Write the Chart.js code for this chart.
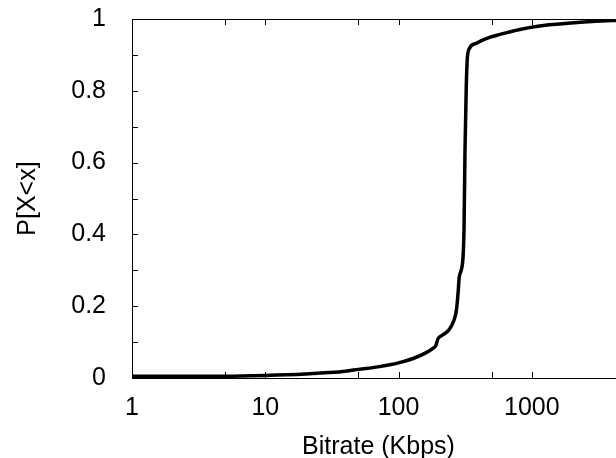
<!DOCTYPE html>
<html>
<head>
<meta charset="utf-8">
<script src="https://cdn.jsdelivr.net/npm/chart.js@4.4.1/dist/chart.umd.min.js"></script>
<style>
  html, body { margin: 0; padding: 0; background: #fff; overflow: hidden; }
  #wrap { width: 640px; height: 458px; }
</style>
</head>
<body>
<div id="wrap"><canvas id="cdf" width="640" height="458"></canvas></div>
<script>
// CDF of bitrate
const bitrate = [1, 3, 5, 10, 20, 30, 40, 50, 70, 100, 130, 160, 180, 190, 198, 215, 240, 260, 272, 280, 285, 295, 305, 310, 315, 322, 328, 340, 380, 460, 576, 814, 1300, 2300, 4000, 5000];
const cdf = [0.005, 0.005, 0.005, 0.007, 0.011, 0.015, 0.019, 0.024, 0.031, 0.042, 0.055, 0.07, 0.082, 0.09, 0.11, 0.12, 0.135, 0.16, 0.19, 0.24, 0.28, 0.30, 0.34, 0.42, 0.63, 0.81, 0.89, 0.918, 0.932, 0.946, 0.957, 0.971, 0.983, 0.991, 0.996, 0.997];

const xTicks = [1, 5, 10, 50, 100, 500, 1000, 5000];
const xLabels = ['1', '', '10', '', '100', '', '1000', ''];
const yTicks = [0, 0.1, 0.2, 0.3, 0.4, 0.5, 0.6, 0.7, 0.8, 0.9, 1];
const yLabels = ['0', '', '0.2', '', '0.4', '', '0.6', '', '0.8', '', '1'];

const pts = bitrate.map((b, i) => ({x: b, y: cdf[i]}));
const font = {family: '"Liberation Sans", Arial, sans-serif', size: 25};

// gnuplot style frame with inward ticks
const frame = {
    id: 'frame',
    afterDraw(chart) {
        const ctx = chart.ctx;
        const a = chart.chartArea;
        const xs = chart.scales.x, ys = chart.scales.y;
        ctx.save();
        ctx.strokeStyle = '#000';
        ctx.lineWidth = 1;
        ctx.strokeRect(Math.round(a.left) + 0.5, Math.round(a.top) + 0.5, Math.round(a.right - a.left), Math.round(a.bottom - a.top));
        ctx.beginPath();
        xTicks.forEach(v => {
            const px = Math.round(xs.getPixelForValue(v)) + 0.5;
            ctx.moveTo(px, a.bottom); ctx.lineTo(px, a.bottom - 6);
            ctx.moveTo(px, a.top); ctx.lineTo(px, a.top + 6);
        });
        yTicks.forEach(v => {
            const py = Math.round(ys.getPixelForValue(v)) + 0.5;
            ctx.moveTo(a.left, py); ctx.lineTo(a.left + 6, py);
            ctx.moveTo(a.right, py); ctx.lineTo(a.right - 6, py);
        });
        ctx.stroke();
        ctx.restore();
    }
};

new Chart(document.getElementById('cdf').getContext('2d'), {
    type: 'line',
    data: {
        datasets: [{
            data: pts,
            borderColor: '#000',
            borderWidth: 3.5,
            pointRadius: 0,
            fill: false,
            cubicInterpolationMode: 'monotone'
        }]
    },
    options: {
        responsive: false,
        animation: false,
        events: [],
        layout: {padding: {top: 19, right: 15, left: 0, bottom: 0}},
        plugins: {legend: {display: false}, tooltip: {enabled: false}},
        scales: {
            x: {
                type: 'logarithmic',
                min: 1,
                max: 5000,
                afterBuildTicks: s => { s.ticks = xTicks.map(v => ({value: v})); },
                afterFit: s => { s.height = 80; s.paddingLeft = 0; s.paddingRight = 0; },
                ticks: {
                    color: '#000',
                    font: font,
                    padding: 7,
                    maxRotation: 0,
                    autoSkip: false,
                    callback: (v, i) => xLabels[i]
                },
                grid: {display: false},
                border: {display: false},
                title: {display: true, text: 'Bitrate (Kbps)', color: '#000', font: font, padding: {top: 4, bottom: -4}}
            },
            y: {
                min: 0,
                max: 1,
                afterBuildTicks: s => { s.ticks = yTicks.map(v => ({value: v})); },
                afterFit: s => { s.width = 132; s.paddingTop = 0; s.paddingBottom = 0; },
                ticks: {
                    color: '#000',
                    font: font,
                    padding: 18,
                    autoSkip: false,
                    callback: (v, i) => yLabels[i]
                },
                grid: {display: false},
                border: {display: false},
                title: {display: true, text: 'P[X<x]', color: '#000', font: font, padding: {top: 13, bottom: 0}}
            }
        }
    },
    plugins: [frame]
});
</script>
</body>
</html>
